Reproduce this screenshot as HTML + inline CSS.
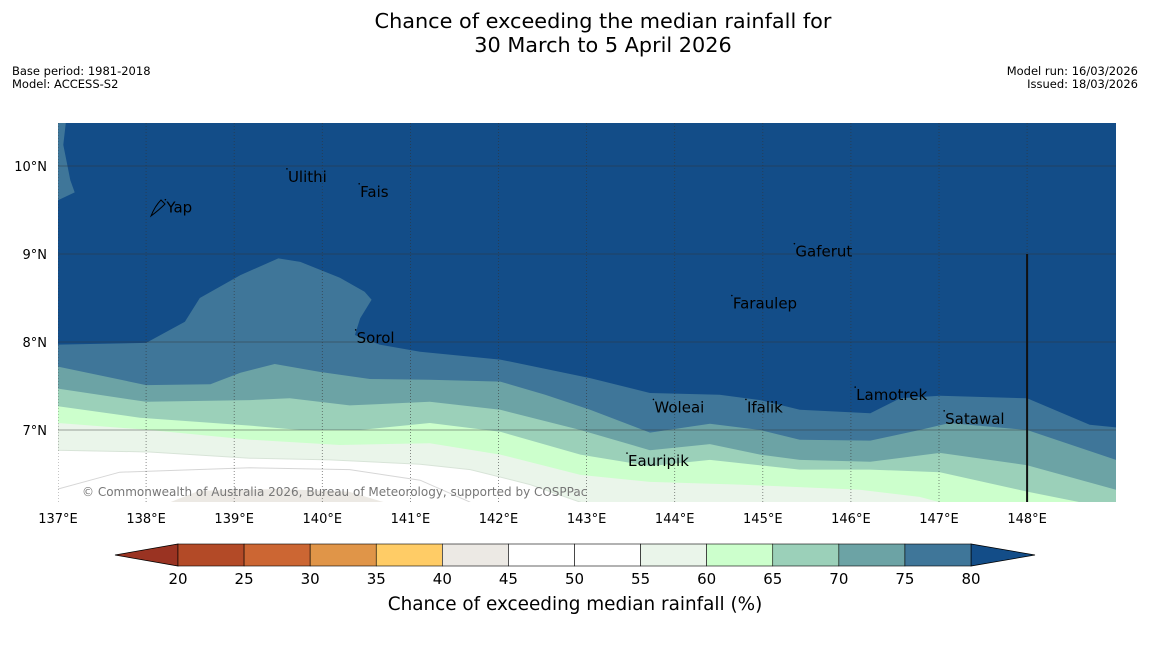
<!DOCTYPE html>
<html><head><meta charset="utf-8">
<style>
body{margin:0;background:#fff;width:1150px;height:644px;overflow:hidden;font-family:"Liberation Sans","DejaVu Sans",sans-serif}
svg text{font-family:"DejaVu Sans","Liberation Sans",sans-serif}
</style></head>
<body>
<svg id="chart" width="1150" height="644" xmlns="http://www.w3.org/2000/svg">
<rect width="1150" height="644" fill="#fff"/>
<text x="603" y="28" font-size="20.8" text-anchor="middle">Chance of exceeding the median rainfall for</text>
<text x="603" y="52" font-size="20.8" text-anchor="middle">30 March to 5 April 2026</text>
<text x="12" y="75" font-size="11.5">Base period: 1981-2018</text>
<text x="12" y="88" font-size="11.5">Model: ACCESS-S2</text>
<text x="1138" y="75" font-size="11.5" text-anchor="end">Model run: 16/03/2026</text>
<text x="1138" y="88" font-size="11.5" text-anchor="end">Issued: 18/03/2026</text>
<defs><clipPath id="mapclip"><rect x="58" y="123" width="1058" height="379"/></clipPath></defs>
<g id="map" clip-path="url(#mapclip)"></g>
<g id="axes"></g>
<g id="cbar"></g>
<text x="575" y="610" font-size="18.4" text-anchor="middle">Chance of exceeding median rainfall (%)</text>
</svg>
<script>
const lonTicks=[137,138,139,140,141,142,143,144,145,146,147,148];
const latTicks=[10,9,8,7];
const levelColors=["#eaf5ea","#ccffcc","#9bd0b9","#6ca3a5","#3f7699","#134d88"];
const levelNames=["55","60","65","70","75","80"];
const b55=[[137,6.77],[138.04,6.75],[139.18,6.68],[140.09,6.66],[141.11,6.61],[141.68,6.55],[142.36,6.38],[142.93,6.18],[143.38,5.98],[149.01,5.9]];
const b60=[[137,7.08],[138.04,7.0],[139.18,6.89],[140.2,6.83],[141.22,6.85],[142.02,6.72],[142.93,6.49],[143.72,6.41],[144.74,6.38],[146.1,6.32],[146.78,6.24],[147.12,6.15],[149.01,5.98]];
const b65=[[137,7.27],[137.93,7.14],[139.18,7.05],[139.75,7.0],[140.43,7.0],[141.22,7.08],[142.02,6.98],[142.93,6.72],[143.72,6.59],[144.4,6.66],[145.42,6.55],[146.22,6.55],[147.01,6.52],[148,6.3],[148.6,6.18],[149.01,6.09]];
const b70=[[137,7.47],[138,7.32],[139.18,7.34],[139.63,7.36],[140.31,7.28],[141.22,7.32],[142.02,7.23],[142.93,7.0],[143.72,6.77],[144.4,6.84],[144.97,6.72],[145.42,6.66],[146.22,6.64],[147.01,6.74],[148,6.6],[149.01,6.32]];
const b75=[[137,7.72],[138,7.51],[138.73,7.52],[139.07,7.65],[139.46,7.75],[139.97,7.66],[140.54,7.58],[141.22,7.57],[142.02,7.55],[142.53,7.4],[143.04,7.23],[143.72,6.97],[144.4,7.07],[144.97,7.0],[145.42,6.89],[146.22,6.88],[146.78,7.0],[147.12,7.08],[148,7.0],[149.01,6.66]];
const b80=[[137,7.97],[138,7.99],[138.44,8.23],[138.61,8.5],[139.07,8.76],[139.5,8.95],[139.75,8.91],[140.2,8.73],[140.48,8.57],[140.56,8.48],[140.43,8.27],[140.37,8.08],[140.65,7.97],[141.11,7.89],[142.02,7.8],[143.04,7.59],[143.72,7.42],[144.51,7.4],[144.97,7.34],[145.42,7.23],[146.22,7.19],[146.56,7.36],[147.01,7.39],[148,7.36],[148.71,7.06],[149.01,7.03]];
const boundaries=[b55,b60,b65,b70,b75,b80];
const sliverNW=[[137,10.5],[137.09,10.5],[137.06,10.24],[137.14,9.84],[137.19,9.7],[137,9.61]];
const line50=[[137,6.33],[137.7,6.52],[139.18,6.57],[140.31,6.55],[141.11,6.43],[141.68,6.18]];
const patch45=[[138.2,6.15],[138.6,6.31],[139.5,6.33],[140.3,6.3],[140.8,6.15]];
const islands=["Ulithi","Fais","Yap","Gaferut","Faraulep","Sorol","Woleai","Ifalik","Lamotrek","Satawal","Eauripik"];
const islandLon=[139.61,140.43,138.23,145.37,144.66,140.39,143.77,144.82,146.06,147.07,143.47];
const islandLat=[9.82,9.65,9.47,8.97,8.38,7.99,7.2,7.2,7.34,7.07,6.59];
const cbLevels=[20,25,30,35,40,45,50,55,60,65,70,75,80];
const cbColors=["#b34a27","#cc6633","#e09548","#ffcc66","#ece9e4","#ffffff","#ffffff","#eaf5ea","#ccffcc","#9bd0b9","#6ca3a5","#3f7699"];

const NS="http://www.w3.org/2000/svg";
const X=lon=>58+(lon-137)*88.1;
const Y=lat=>166+(10-lat)*88;
const CX=v=>178+(v-20)*(971-178)/60;
function mk(tag,attrs,parent){const e=document.createElementNS(NS,tag);for(const k in attrs)e.setAttribute(k,attrs[k]);parent.appendChild(e);return e;}
const map=document.getElementById('map'),axes=document.getElementById('axes'),cbar=document.getElementById('cbar');
function pts(a){return a.map(p=>X(p[0]).toFixed(1)+","+Y(p[1]).toFixed(1)).join(" ");}
let bg=mk('rect',{x:58,y:123,width:1058,height:379,fill:'#ffffff'},map);


let pl=mk('polyline',{points:pts(line50),fill:'none',stroke:'#d6d6d6','stroke-width':1},map);


let pp=mk('polygon',{points:pts(patch45),fill:'#ece9e4'},map);


boundaries.forEach((b,i)=>{
  const poly=b.concat([[b[b.length-1][0],10.6],[b[0][0],10.6]]);
  const e=mk('polygon',{points:pts(poly),fill:levelColors[i],stroke:i==0?'#d8e4d8':'none','stroke-width':1},map);
  
  
});
let sl=mk('polygon',{points:pts(sliverNW),fill:'#3f7699'},map);


lonTicks.forEach(l=>{
  const g=mk('line',{x1:X(l),x2:X(l),y1:123,y2:502,stroke:'#333','stroke-width':0.8,'stroke-dasharray':'1,2','stroke-opacity':0.7},map);
  
  
  const t=mk('text',{x:X(l),y:523,'font-size':13,'text-anchor':'middle'},axes);
  t.textContent=l+"°E";
  
  
});
latTicks.forEach(l=>{
  const g=mk('line',{x1:58,x2:1116,y1:Y(l),y2:Y(l),stroke:'#333','stroke-width':0.8,'stroke-opacity':0.6},map);
  
  
  const t=mk('text',{x:47,y:Y(l)+5,'font-size':13,'text-anchor':'end'},axes);
  t.textContent=l+"°N";
  
  
});
let bl=mk('line',{x1:X(148),x2:X(148),y1:Y(9),y2:502,stroke:'#111','stroke-width':2},map);


islands.forEach((n,i)=>{
  const d=mk('circle',{cx:X(islandLon[i])-1,cy:Y(islandLat[i])-13,r:0.8,fill:'#000'},map);
  
  
  const t=mk('text',{x:X(islandLon[i]),y:Y(islandLat[i]),'font-size':15,fill:'#000'},map);
  t.textContent=n;
  
  
});
let yp=mk('path',{d:'M151,216 Q155,206 161,200 L165,204 Q159,210 151,216 Z',fill:'none',stroke:'#000','stroke-width':1},map);


let cp=mk('text',{x:82,y:496,'font-size':12,fill:'#777'},map);
cp.textContent="© Commonwealth of Australia 2026, Bureau of Meteorology, supported by COSPPac";


let lt=mk('polygon',{points:'115,555 178,544 178,566',fill:'#9a3322',stroke:'#000','stroke-width':0.8},cbar);


let rt=mk('polygon',{points:'1035,555 971,544 971,566',fill:'#134d88',stroke:'#000','stroke-width':0.8},cbar);


cbColors.forEach((c,i)=>{
  const r=mk('rect',{x:CX(cbLevels[i]),y:544,width:CX(cbLevels[i+1])-CX(cbLevels[i]),height:22,fill:c,stroke:'#000','stroke-width':0.6},cbar);
  
  
});
cbLevels.forEach(v=>{
  const t=mk('text',{x:CX(v),y:584,'font-size':15,'text-anchor':'middle'},cbar);
  t.textContent=v;
  
  
});
</script>
</body></html>
